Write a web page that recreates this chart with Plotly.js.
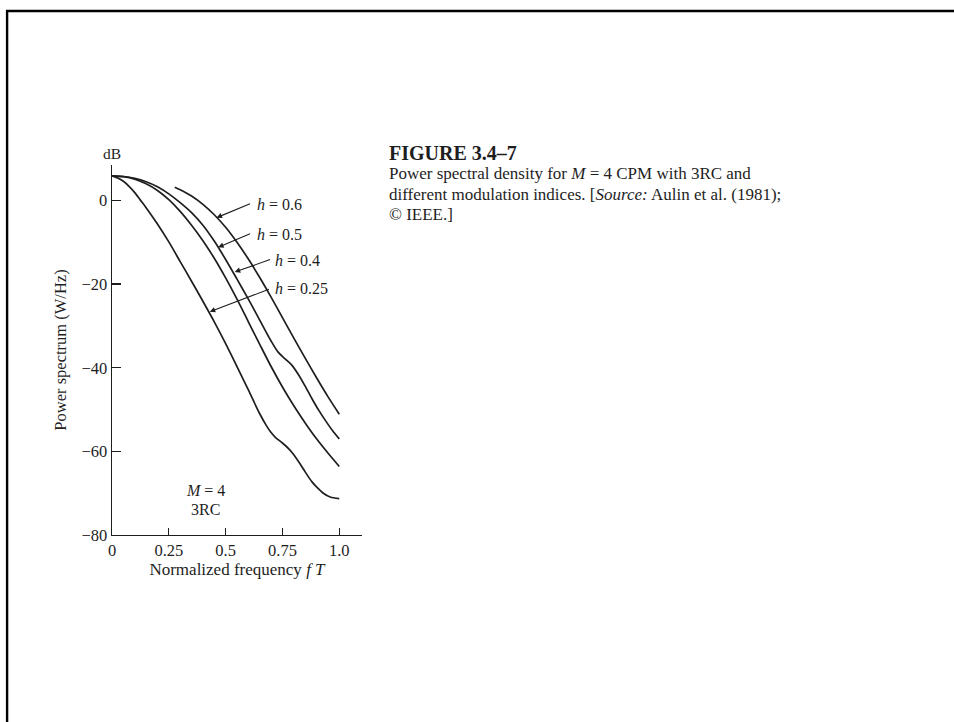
<!DOCTYPE html>
<html>
<head>
<meta charset="utf-8">
<script src="https://cdn.plot.ly/plotly-3.0.1.min.js"></script>
<style>
  html, body { margin: 0; padding: 0; background: #ffffff; }
  #chart { width: 954px; height: 722px; }
</style>
</head>
<body>
<div id="chart"></div>
<script>
// Power spectral density (dB) of M = 4 CPM with 3RC pulses versus normalized frequency fT
const freqH025 = [0, 0.025, 0.05, 0.075, 0.1, 0.125, 0.15, 0.2, 0.25, 0.3, 0.35, 0.4, 0.45, 0.5, 0.55, 0.6, 0.65, 0.68, 0.7, 0.72, 0.75, 0.78, 0.8, 0.83, 0.85, 0.88, 0.9, 0.93, 0.96, 1.0];
const psdH025 = [5.9, 5.4, 4.6, 3.4, 1.9, 0.1, -1.7, -5.6, -9.9, -14.6, -19.3, -24.1, -29.0, -34.2, -39.7, -45.3, -51.0, -53.9, -55.5, -56.7, -58.0, -59.5, -60.8, -63.2, -64.9, -67.3, -68.5, -70.0, -70.9, -71.3];

const freqH04 = [0, 0.05, 0.1, 0.15, 0.2, 0.25, 0.3, 0.35, 0.4, 0.45, 0.5, 0.55, 0.6, 0.65, 0.7, 0.75, 0.8, 0.85, 0.9, 0.95, 1.0];
const psdH04 = [5.9, 5.7, 5.1, 4.0, 2.4, 0.2, -2.6, -5.9, -9.6, -13.8, -18.5, -23.6, -29.0, -34.4, -39.7, -44.6, -49.1, -53.2, -57.0, -60.4, -63.6];

const freqH05 = [0, 0.05, 0.1, 0.15, 0.2, 0.25, 0.3, 0.35, 0.4, 0.45, 0.5, 0.55, 0.6, 0.65, 0.7, 0.73, 0.76, 0.79, 0.82, 0.85, 0.88, 0.91, 0.94, 0.97, 1.0];
const psdH05 = [5.9, 5.75, 5.3, 4.5, 3.3, 1.6, -0.5, -2.9, -5.9, -9.7, -14.1, -18.8, -23.6, -28.6, -33.6, -36.2, -37.8, -39.3, -41.6, -44.4, -47.4, -50.2, -52.7, -55.0, -57.0];

const freqH06 = [0.276, 0.3, 0.35, 0.4, 0.45, 0.5, 0.55, 0.6, 0.65, 0.7, 0.75, 0.8, 0.85, 0.9, 0.95, 1.0];
const psdH06 = [3.2, 2.6, 1.1, -0.9, -3.4, -6.4, -10.0, -14.0, -18.4, -23.1, -28.0, -32.9, -37.7, -42.4, -46.9, -51.1];

// Axis ticks
const xTickVals = [0, 0.25, 0.5, 0.75, 1.0];
const xTickText = ['0', '0.25', '0.5', '0.75', '1.0'];
const yTickVals = [0, -20, -40, -60, -80];
const yTickText = ['0', '\u221220', '\u221240', '\u221260', '\u221280'];

// Modulation-index labels for the four curves
const curveLabels = ['<i>h</i> = 0.6', '<i>h</i> = 0.5', '<i>h</i> = 0.4', '<i>h</i> = 0.25'];

const ink = '#1e1e1e';
const serif = 'Liberation Serif, Times New Roman, serif';

function curve(x, y) {
  return {
    x: x, y: y, type: 'scatter', mode: 'lines',
    line: { color: ink, width: 1.7, shape: 'spline', smoothing: 0.8 },
    hoverinfo: 'skip', showlegend: false
  };
}

const traces = [
  curve(freqH025, psdH025),
  curve(freqH04, psdH04),
  curve(freqH05, psdH05),
  curve(freqH06, psdH06)
];

// Label anchor, arrow tail and arrow tip (data units)
const labelPos = [
  { tx: 0.628, ty: -0.9,  ax: 0.614, ay: -0.6,  px: 0.460, py: -4.1 },
  { tx: 0.628, ty: -8.2,  ax: 0.614, ay: -7.8,  px: 0.467, py: -11.2 },
  { tx: 0.709, ty: -14.4, ax: 0.702, ay: -14.0, px: 0.540, py: -17.1 },
  { tx: 0.709, ty: -21.1, ax: 0.697, ay: -21.1, px: 0.430, py: -26.6 }
];

const annotations = [];
curveLabels.forEach(function (t, i) {
  const p = labelPos[i];
  annotations.push({
    x: p.tx, y: p.ty, xref: 'x', yref: 'y', text: t, showarrow: false,
    xanchor: 'left', yanchor: 'middle',
    font: { family: serif, size: 16, color: ink }
  });
  annotations.push({
    x: p.px, y: p.py, xref: 'x', yref: 'y',
    ax: p.ax, ay: p.ay, axref: 'x', ayref: 'y',
    text: '', showarrow: true, arrowhead: 2, arrowsize: 1, arrowwidth: 1.1,
    arrowcolor: ink, standoff: 0, startstandoff: 0
  });
});

// Notes inside the plot
annotations.push({
  x: 0.41, y: -69.4, xref: 'x', yref: 'y', text: '<i>M</i> = 4', showarrow: false,
  font: { family: serif, size: 16, color: ink }
});
annotations.push({
  x: 0.41, y: -73.8, xref: 'x', yref: 'y', text: '3RC', showarrow: false,
  font: { family: serif, size: 16, color: ink }
});
annotations.push({
  x: 0, y: 1.0324, xref: 'paper', yref: 'paper', text: 'dB', showarrow: false,
  xanchor: 'center', yanchor: 'middle',
  font: { family: serif, size: 15.5, color: ink }
});

// Figure caption at the right of the chart
const captionLines = [
  '<b>FIGURE 3.4\u20137</b>',
  'Power spectral density for <i>M</i> = 4 CPM with 3RC and',
  'different modulation indices. [<i>Source:</i> Aulin et al. (1981);',
  '\u00a9 IEEE.]'
];
const captionRows = [152.5, 173.5, 194, 214.5];
const captionSizes = [20, 17, 17, 17];
captionLines.forEach(function (t, i) {
  annotations.push({
    x: (387 - 112) / 250.25, y: (535 - captionRows[i]) / 370,
    xref: 'paper', yref: 'paper', text: t, showarrow: false,
    xanchor: 'left', yanchor: 'middle',
    font: { family: serif, size: captionSizes[i], color: ink }
  });
});

const layout = {
  width: 954, height: 722,
  margin: { l: 112, r: 592, t: 165, b: 187, pad: 0 },
  paper_bgcolor: '#ffffff', plot_bgcolor: '#ffffff',
  showlegend: false,
  xaxis: {
    range: [0, 1.1], tickvals: xTickVals, ticktext: xTickText,
    ticks: 'inside', ticklen: 7, tickwidth: 1.3, tickcolor: ink,
    showline: true, linecolor: ink, linewidth: 1.4, mirror: false,
    showgrid: false, zeroline: false,
    tickfont: { family: serif, size: 16.5, color: ink },
    title: { text: 'Normalized frequency <i>f T</i>', standoff: 3,
             font: { family: serif, size: 17, color: ink } }
  },
  yaxis: {
    range: [-80, 8.5], tickvals: yTickVals, ticktext: yTickText,
    ticks: 'inside', ticklen: 9, tickwidth: 1.3, tickcolor: ink,
    showline: true, linecolor: ink, linewidth: 1.4, mirror: false,
    showgrid: false, zeroline: false,
    tickfont: { family: serif, size: 16.5, color: ink },
    title: { text: 'Power spectrum (W/Hz)', standoff: 10,
             font: { family: serif, size: 16.5, color: ink } }
  },
  annotations: annotations,
  shapes: [{
    type: 'path', xref: 'paper', yref: 'paper',
    path: 'M -0.4196 -0.6 L -0.4196 1.4162 L 3.5 1.4162',
    line: { color: '#000000', width: 2.4 }
  }]
};

Plotly.newPlot('chart', traces, layout, { displayModeBar: false, staticPlot: true });
</script>
</body>
</html>
